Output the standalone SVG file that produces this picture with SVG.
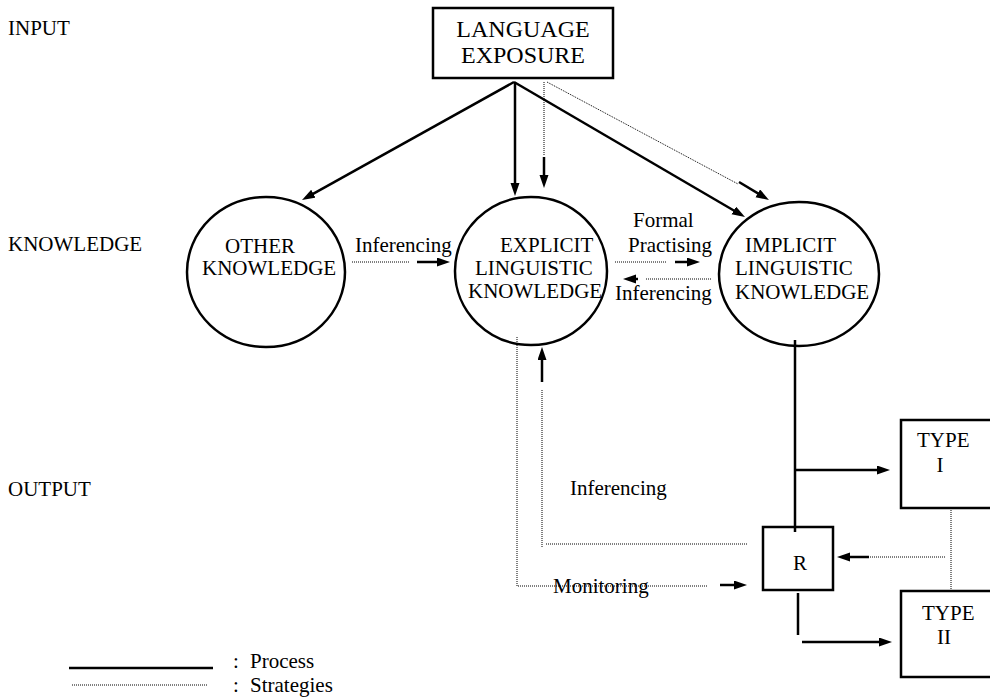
<svg xmlns="http://www.w3.org/2000/svg" width="990" height="697" viewBox="0 0 990 697" font-family="'Liberation Serif', 'Times New Roman', 'DejaVu Serif', serif">
<style>
text{font-size:21px;fill:#000}
.big{font-size:24px}
.node{fill:none;stroke:#000;stroke-width:2.5}
.p{stroke:#000;stroke-width:2.5;fill:none}
.s{stroke:#000;stroke-width:1;stroke-dasharray:1 1;fill:none}
.a{stroke:#000;stroke-width:2.5;fill:none;marker-end:url(#ah)}
</style>
<defs>
<marker id="ah" markerUnits="userSpaceOnUse" markerWidth="14" markerHeight="10" refX="5" refY="4.5" orient="auto">
<path d="M0,0 L13,4.5 L0,9 z" fill="#000"/>
</marker>
</defs>
<g id="labels">
<text x="8" y="35">INPUT</text>
<text x="8" y="251">KNOWLEDGE</text>
<text x="8" y="496">OUTPUT</text>
</g>
<g id="connectors">
<line class="a" x1="514" y1="82" x2="309" y2="196.1"/>
<line class="a" x1="515" y1="82" x2="515" y2="188"/>
<line class="a" x1="514" y1="82" x2="738.1" y2="213"/>
<line class="s" x1="544" y1="82" x2="544" y2="155"/>
<line class="a" x1="544" y1="157" x2="544" y2="180"/>
<line class="s" x1="547" y1="82" x2="738" y2="184"/>
<line class="a" x1="739" y1="182" x2="762.1" y2="195.9"/>
<line class="s" x1="352" y1="262" x2="410" y2="262"/>
<line class="a" x1="417" y1="262" x2="442" y2="262"/>
<line class="s" x1="615" y1="262" x2="667" y2="262"/>
<line class="a" x1="675" y1="262" x2="692" y2="262"/>
<line class="s" x1="646" y1="279" x2="712" y2="279"/>
<line class="a" x1="638" y1="279" x2="631" y2="279"/>
<line class="a" x1="542" y1="382" x2="542" y2="355"/>
<line class="s" x1="542" y1="390" x2="542" y2="548"/>
<line class="s" x1="546" y1="544" x2="747" y2="544"/>
<polyline class="s" points="517,337 517,586 707,586"/>
<line class="a" x1="720" y1="585" x2="739" y2="585"/>
<line class="p" x1="795" y1="340" x2="795" y2="532"/>
<line class="a" x1="795" y1="470" x2="882" y2="470"/>
<line class="s" x1="951" y1="508" x2="951" y2="591"/>
<line class="s" x1="945" y1="557" x2="870" y2="557"/>
<line class="a" x1="869" y1="557" x2="845" y2="557"/>
<line class="p" x1="798" y1="593" x2="798" y2="635"/>
<line class="a" x1="802" y1="642" x2="884" y2="642"/>
</g>
<g id="language-exposure">
<rect class="node" x="433" y="8" width="180" height="70"/>
<text class="big" x="523" y="37" text-anchor="middle">LANGUAGE</text>
<text class="big" x="523" y="63" text-anchor="middle">EXPOSURE</text>
</g>
<g id="other-knowledge">
<ellipse class="node" cx="266" cy="272" rx="79" ry="75"/>
<text x="225" y="253">OTHER</text>
<text x="202" y="275">KNOWLEDGE</text>
</g>
<g id="explicit-knowledge">
<ellipse class="node" cx="531" cy="271" rx="76" ry="74"/>
<text x="500" y="252">EXPLICIT</text>
<text x="475" y="275">LINGUISTIC</text>
<text x="468" y="298">KNOWLEDGE</text>
</g>
<g id="implicit-knowledge">
<ellipse class="node" cx="799" cy="274" rx="80" ry="72"/>
<text x="745" y="252">IMPLICIT</text>
<text x="735" y="275">LINGUISTIC</text>
<text x="735" y="299">KNOWLEDGE</text>
</g>
<g id="edge-labels">
<text x="355" y="252">Inferencing</text>
<text x="633" y="227">Formal</text>
<text x="628" y="252">Practising</text>
<text x="615" y="300">Inferencing</text>
<text x="570" y="495">Inferencing</text>
<text x="553" y="593">Monitoring</text>
</g>
<g id="r">
<rect class="node" x="763" y="527" width="70" height="63"/>
<text x="800" y="570" text-anchor="middle">R</text>
</g>
<g id="type-i">
<rect class="node" x="901" y="420" width="100" height="88"/>
<text x="917" y="447">TYPE</text>
<text x="940" y="472" text-anchor="middle">I</text>
</g>
<g id="type-ii">
<rect class="node" x="901" y="591" width="100" height="86"/>
<text x="922" y="620">TYPE</text>
<text x="944" y="644" text-anchor="middle">II</text>
</g>
<g id="legend">
<line class="p" x1="69" y1="668" x2="213" y2="668"/>
<line class="s" x1="72" y1="685" x2="208" y2="685"/>
<text x="233" y="668">:</text>
<text x="250" y="668">Process</text>
<text x="233" y="692">:</text>
<text x="250" y="692">Strategies</text>
</g>
</svg>
